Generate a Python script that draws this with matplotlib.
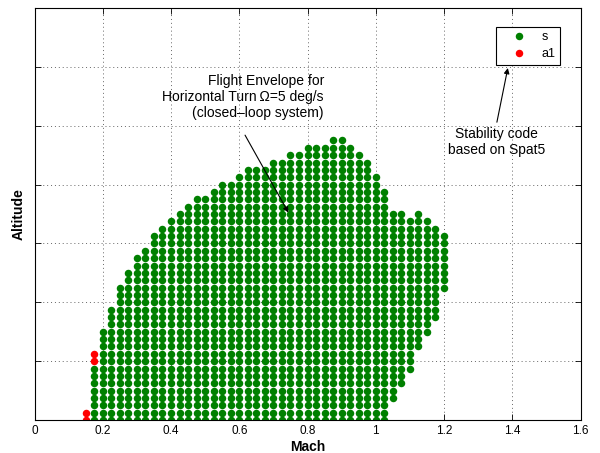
import matplotlib.pyplot as plt

plt.rcParams["font.family"] = ["Liberation Sans", "DejaVu Sans"]

# Mach grid columns of the stable points ("s")
mach_cols = [0.175, 0.2, 0.225, 0.25, 0.275, 0.3, 0.325, 0.35, 0.375, 0.4,
             0.425, 0.45, 0.475, 0.5, 0.525, 0.55, 0.575, 0.6, 0.625, 0.65,
             0.675, 0.7, 0.725, 0.75, 0.775, 0.8, 0.825, 0.85, 0.875, 0.9,
             0.925, 0.95, 0.975, 1.0, 1.025, 1.05, 1.075, 1.1, 1.125, 1.15,
             1.175, 1.2]
# lowest / highest stable altitude in each column (m)
alt_low = [0] * 35 + [750, 1250, 1750, 2500, 3000, 3500, 4500]
alt_high = [1750, 3000, 3750, 4500, 5000, 5500, 5750, 6250, 6500, 6750,
            7000, 7250, 7500, 7500, 7750, 8000, 8000, 8250, 8500, 8500,
            8500, 8750, 8750, 9000, 9000, 9250, 9250, 9250, 9500, 9500,
            9250, 9000, 8750, 8250, 7750, 7000, 7000, 6750, 7000, 6750,
            6500, 6250]
alt_step = 250

# points flagged "a1"
mach_a1 = [0.15, 0.15, 0.175, 0.175]
alt_a1 = [0, 250, 2000, 2250]

# expand each column into its grid points
mach_s = []
alt_s = []
for m, lo, hi in zip(mach_cols, alt_low, alt_high):
    for a in range(lo, hi + 1, alt_step):
        mach_s.append(m)
        alt_s.append(a)

fig = plt.figure(figsize=(6, 4.53), dpi=100)
ax = fig.add_axes([0.0575, 0.0728, 0.91, 0.9095])

ax.plot(mach_s, alt_s, "o", color="#008000", markersize=5.4,
        markeredgewidth=0, label="s")
ax.plot(mach_a1, alt_a1, "o", color="#ff0000", markersize=5.4,
        markeredgewidth=0, label="a1")

ax.set_xlim(0, 1.6)
ax.set_ylim(0, 14000)
xticks = [0, 0.2, 0.4, 0.6, 0.8, 1.0, 1.2, 1.4, 1.6]
ax.set_xticks(xticks)
ax.set_xticklabels(["0", "0.2", "0.4", "0.6", "0.8", "1", "1.2", "1.4", "1.6"],
                   fontsize=8.5)
ax.set_yticks(range(0, 14001, 2000))
ax.set_yticklabels([])
ax.tick_params(direction="in", top=True, right=True, length=4, width=0.6)
ax.grid(True, linestyle=(0, (1, 3)), color="0.4", linewidth=0.7)
for s in ax.spines.values():
    s.set_linewidth(0.8)

ax.set_xlabel("Mach", fontsize=10, fontweight="bold", labelpad=2)
ax.set_ylabel("Altitude", fontsize=10, fontweight="bold", labelpad=3)

arrow_style = dict(arrowstyle="-|>", color="black", lw=0.8,
                   mutation_scale=8, shrinkA=0, shrinkB=0)

ax.text(0.848, 10970,
        "Flight Envelope for\nHorizontal Turn\u2009\u03a9=5 deg/s\n(closed\u2013loop system)",
        ha="right", va="center", multialignment="right", fontsize=10)
ax.annotate("", xy=(0.744, 7050), xytext=(0.617, 9680),
            arrowprops=arrow_style)

ax.text(1.355, 9440, "Stability code\nbased on Spat5",
        ha="center", va="center", fontsize=10)
ax.annotate("", xy=(1.387, 11960), xytext=(1.355, 10120),
            arrowprops=arrow_style)

leg = ax.legend(loc="upper right", bbox_to_anchor=(0.9625, 0.954),
                borderaxespad=0, fontsize=9, fancybox=False,
                edgecolor="black", framealpha=1, handlelength=3.05,
                handletextpad=0.25, borderpad=0.35, labelspacing=0.4)
leg.get_frame().set_linewidth(0.8)

fig.savefig("out.png", dpi=100)
